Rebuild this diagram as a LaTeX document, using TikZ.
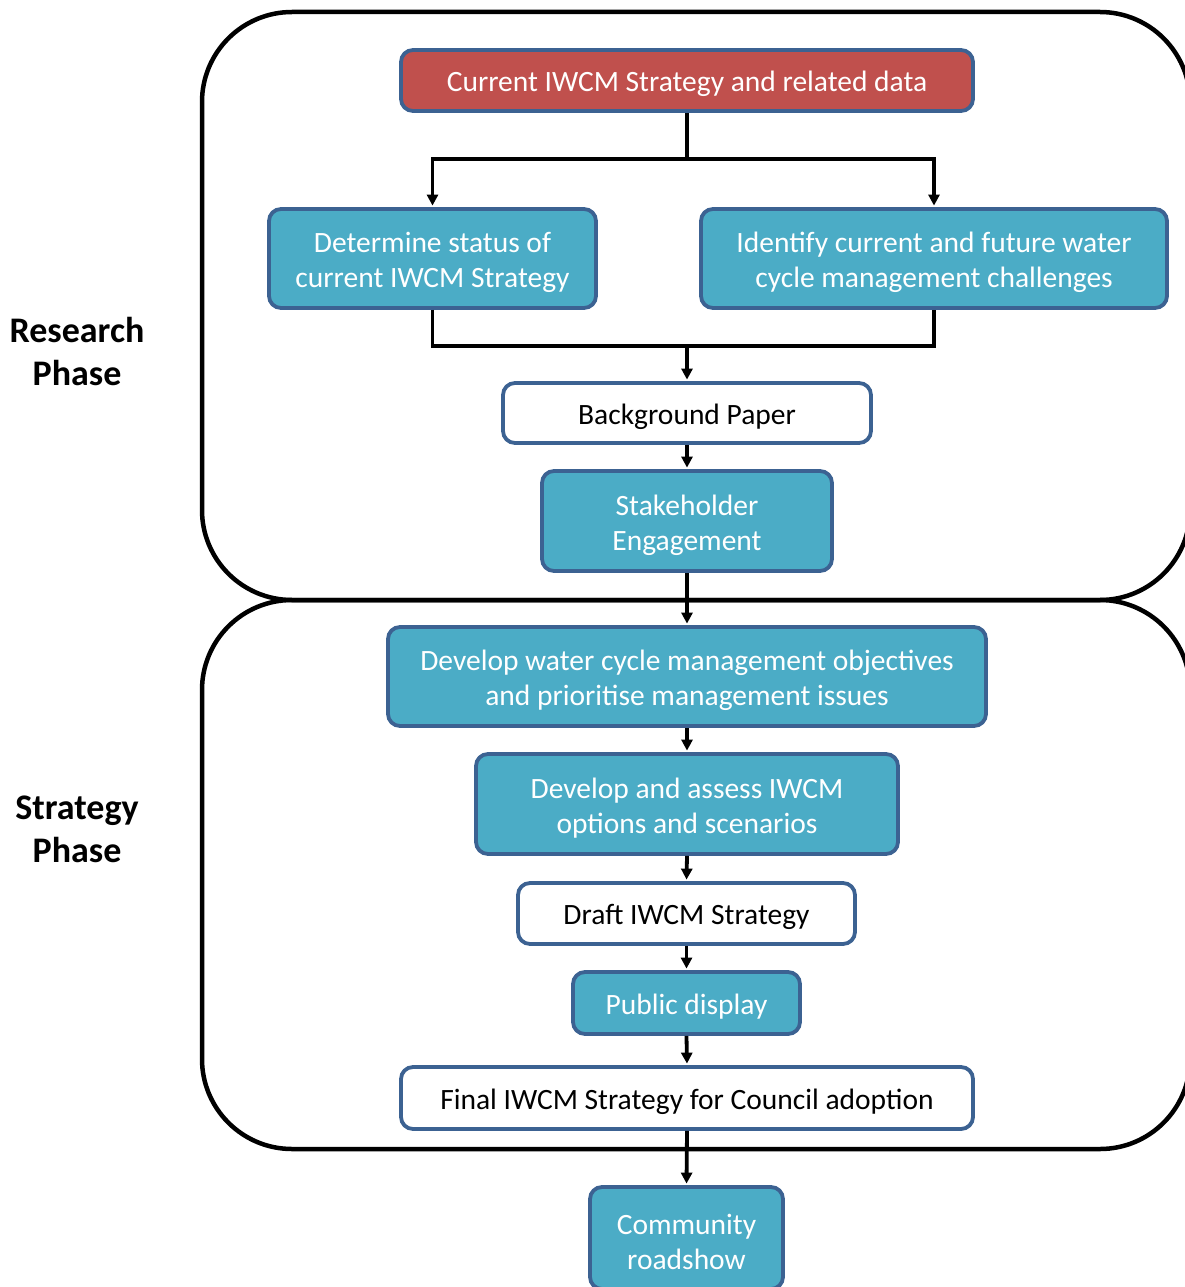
\documentclass[tikz,border=0pt]{standalone}
\usepackage{fontspec}
\setmainfont{Carlito}
\usetikzlibrary{arrows.meta}

\definecolor{boxblue}{HTML}{4BACC6}
\definecolor{boxred}{HTML}{C0504D}
\definecolor{boxline}{HTML}{3C6292}

\begin{document}
\begin{tikzpicture}[x=1pt,y=-1pt]
\tikzstyle{box} = [draw=boxline, line width=3.8pt, rounded corners=12pt, inner sep=0, text height=28pt, align=center, font=\fontsize{29.5}{35}\selectfont]
\tikzstyle{tealbox} = [box, fill=boxblue, text=white, text height=64pt]
\tikzstyle{redbox} = [box, fill=boxred, text=white]
\tikzstyle{whitebox} = [box, fill=white, text=black]
\tikzstyle{phase} = [draw, line width=4.5pt, rounded corners=90pt]
\tikzstyle{wire} = [line width=3.8pt]
\tikzstyle{link} = [wire, -{Triangle[length=11pt,width=11pt]}, shorten >=1.5pt]
\tikzstyle{phaselabel} = [align=center, font=\bfseries\fontsize{36}{43}\selectfont]

\useasboundingbox (0,0) rectangle (1184,1287);

% Riquadri delle fasi
\draw[phase] (202,12) rectangle (1190,600);
\draw[phase] (202,600) rectangle (1190,1149);

\node[phaselabel] (research) at (77,351) {Research\\Phase};
\node[phaselabel] (strategy) at (77,829) {Strategy\\Phase};

% Nodi
\node[redbox, minimum width=572, minimum height=61] (cur) at (687,80.5) {Current IWCM Strategy and related data};
\node[tealbox, minimum width=327, minimum height=99] (det) at (432.5,258.5) {Determine status of\\current IWCM Strategy};
\node[tealbox, minimum width=466, minimum height=99] (idf) at (934,258.5) {Identify current and future water\\cycle management challenges};
\node[whitebox, minimum width=368, minimum height=60] (bg) at (687,413) {Background Paper};
\node[tealbox, minimum width=290, minimum height=100] (stake) at (687,521) {Stakeholder\\Engagement};
\node[tealbox, minimum width=598, minimum height=99] (obj) at (687,676.5) {Develop water cycle management objectives\\and prioritise management issues};
\node[tealbox, minimum width=422, minimum height=100] (opt) at (687,804) {Develop and assess IWCM\\options and scenarios};
\node[whitebox, minimum width=337, minimum height=61] (draft) at (686.5,913.5) {Draft IWCM Strategy};
\node[tealbox, minimum width=227, minimum height=62, text height=28pt] (pub) at (686.5,1003) {Public display};
\node[whitebox, minimum width=572, minimum height=62] (final) at (687,1098) {Final IWCM Strategy for Council adoption};
\node[tealbox, minimum width=193, minimum height=102] (road) at (686.5,1238) {Community\\roadshow};

% Collegamenti
\coordinate (split) at (687,159);
\coordinate (merge) at (687,346);

\draw[wire] (cur.south) -- (split);
\draw[link] (split) -| (det.north);
\draw[link] (split) -| (idf.north);
\draw[wire] (det.south) |- (merge) -| (idf.south);
\draw[link] (merge) -- (bg.north);

\foreach \a/\b in {bg/stake, stake/obj, obj/opt, opt/draft, draft/pub, pub/final, final/road} {
  \draw[link] (\a.south) -- (\b.north);
}

\end{tikzpicture}
\end{document}
